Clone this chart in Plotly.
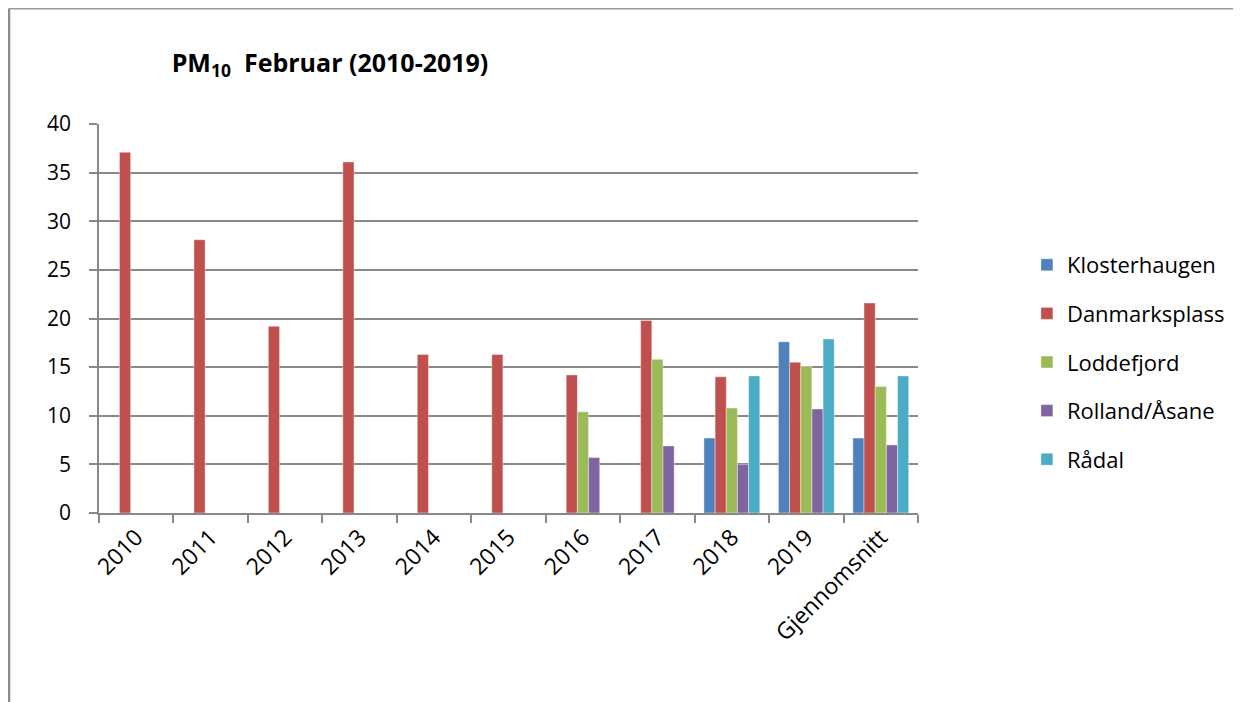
import plotly.graph_objects as go

categories = ["2010", "2011", "2012", "2013", "2014", "2015", "2016", "2017", "2018", "2019", "Gjennomsnitt"]
klosterhaugen = [None, None, None, None, None, None, None, None, 7.7, 17.6, 7.7]
danmarksplass = [37.1, 28.1, 19.2, 36.1, 16.3, 16.3, 14.2, 19.8, 14.0, 15.5, 21.6]
loddefjord = [None, None, None, None, None, None, 10.4, 15.8, 10.8, 15.1, 13.0]
rolland_asane = [None, None, None, None, None, None, 5.7, 6.9, 5.0, 10.7, 7.0]
radal = [None, None, None, None, None, None, None, None, 14.1, 17.9, 14.1]

series = [
    ("Klosterhaugen", klosterhaugen, "#4F81BD"),
    ("Danmarksplass", danmarksplass, "#C0504D"),
    ("Loddefjord", loddefjord, "#9BBB59"),
    ("Rolland/Åsane", rolland_asane, "#8064A2"),
    ("Rådal", radal, "#4BACC6"),
]

FONT = "Open Sans"
OFF = 8  # page body margin offset

fig = go.Figure()
for i, (name, vals, color) in enumerate(series):
    fig.add_trace(go.Bar(
        x=categories, y=vals, name=name,
        marker=dict(color=color, line=dict(color="rgba(255,255,255,0.5)", width=0.8)),
        legendgroup=f"g{i}",
    ))

fig.update_layout(
    width=1241, height=702,
    margin=dict(l=99 - OFF, r=1241 - (99 - OFF) - 819, t=124 - OFF, b=702 - (124 - OFF) - 389),
    paper_bgcolor="white", plot_bgcolor="white",
    barmode="group", bargap=0.25, bargroupgap=0,
    font=dict(family=FONT, size=21, color="#000000"),
    title=dict(
        text="<b>PM<sub>10</sub>  Februar (2010-2019)</b>",
        x=(330 - OFF) / 1241, xref="container", xanchor="center",
        y=1 - (63 - OFF) / 702, yref="container", yanchor="middle",
        font=dict(family=FONT, size=25, color="#000000"),
    ),
    legend=dict(
        x=1.133, xanchor="left", y=(513 - 244) / 389, yanchor="top",
        font=dict(family=FONT, size=22),
        traceorder="grouped", tracegroupgap=17,
        bgcolor="rgba(0,0,0,0)",
    ),
    showlegend=True,
)

fig.update_xaxes(
    type="category",
    showline=True, linecolor="#888888", linewidth=1.5,
    ticks="outside", tickson="boundaries", ticklen=8, tickcolor="#888888", tickwidth=1.5,
    tickangle=-45, tickfont=dict(family=FONT, size=23),
    showgrid=False,
)
fig.update_yaxes(
    range=[0, 40], dtick=5,
    showline=True, linecolor="#888888", linewidth=1.5,
    ticks="outside", ticklen=8, tickcolor="#888888", tickwidth=1.5,
    showgrid=True, gridcolor="#888888", gridwidth=1.5,
    zeroline=False,
    ticklabelstandoff=14,
    tickfont=dict(family=FONT, size=21),
)

# outer chart frame (left and top edges visible)
fig.add_shape(type="line", xref="paper", yref="paper",
              x0=(9 - 99) / 819, x1=(9 - 99) / 819, y0=(513 - 720) / 389, y1=(513 - 8.5) / 389,
              line=dict(color="#8a8a8a", width=2.5), layer="below")
fig.add_shape(type="line", xref="paper", yref="paper",
              x0=(9 - 99) / 819, x1=(1260 - 99) / 819, y0=(513 - 8.7) / 389, y1=(513 - 8.7) / 389,
              line=dict(color="#9a9a9a", width=1.5), layer="below")

fig.write_html("out.html")
